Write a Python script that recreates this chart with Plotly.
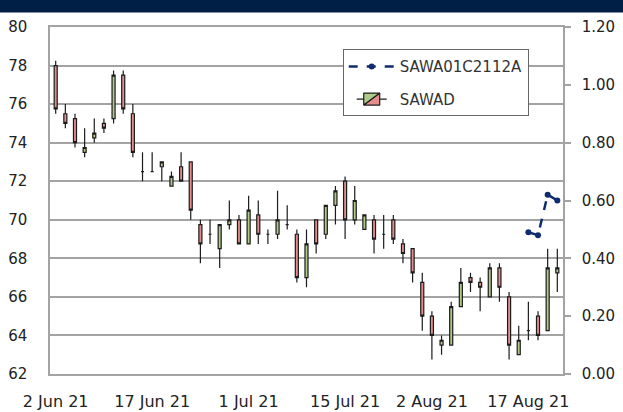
import plotly.graph_objects as go

# ---- data ----
dates = [
    "2021-06-02", "2021-06-04", "2021-06-07", "2021-06-08", "2021-06-09", "2021-06-10", "2021-06-11",
    "2021-06-14", "2021-06-15", "2021-06-16", "2021-06-17", "2021-06-18", "2021-06-21", "2021-06-22",
    "2021-06-23", "2021-06-24", "2021-06-25", "2021-06-28", "2021-06-29", "2021-06-30", "2021-07-01",
    "2021-07-02", "2021-07-05", "2021-07-06", "2021-07-07", "2021-07-08", "2021-07-09", "2021-07-12",
    "2021-07-13", "2021-07-14", "2021-07-15", "2021-07-16", "2021-07-19", "2021-07-20", "2021-07-21",
    "2021-07-22", "2021-07-23", "2021-07-29", "2021-07-30", "2021-08-02", "2021-08-03", "2021-08-04",
    "2021-08-05", "2021-08-06", "2021-08-09", "2021-08-10", "2021-08-11", "2021-08-13", "2021-08-16",
    "2021-08-17", "2021-08-18", "2021-08-19", "2021-08-20",
]
sawad_open = [
    78.0, 75.5, 75.25, 73.5, 74.25, 75.0, 75.25, 77.5, 75.5, 72.5, 72.5, 72.75, 71.75, 72.75,
    73.0, 69.75, 69.25, 68.5, 69.75, 70.0, 68.75, 70.25, 69.25, 69.25, 69.75, 69.25, 67.0, 70.0,
    69.25, 70.75, 72.0, 70.0, 69.5, 70.0, 69.25, 70.0, 68.75, 68.5, 66.75, 65.0, 63.5, 63.5,
    65.5, 67.0, 66.75, 66.0, 67.5, 66.0, 63.0, 64.25, 65.0, 64.25, 67.25,
]
sawad_high = [
    78.25, 76.0, 75.5, 74.75, 75.25, 75.25, 77.75, 77.75, 76.0, 73.5, 73.5, 73.0, 72.5, 73.5,
    73.0, 70.0, 70.0, 69.75, 71.0, 70.25, 71.25, 71.0, 69.5, 71.5, 70.75, 69.5, 69.5, 70.0,
    70.75, 71.75, 72.25, 71.75, 70.25, 70.25, 70.25, 70.25, 69.0, 68.5, 67.25, 65.25, 64.0, 65.75,
    67.5, 67.25, 67.0, 67.75, 67.75, 66.25, 64.5, 65.75, 65.25, 68.5, 68.5,
]
sawad_low = [
    75.5, 74.75, 73.75, 73.25, 74.0, 74.5, 75.0, 75.5, 73.25, 72.0, 72.5, 72.0, 71.75, 72.0,
    70.0, 67.75, 68.75, 67.5, 69.5, 68.75, 68.75, 68.75, 68.75, 69.0, 69.5, 66.75, 66.5, 68.25,
    69.0, 69.75, 69.0, 69.75, 69.5, 68.25, 68.5, 68.75, 67.75, 66.75, 64.25, 62.75, 63.0, 63.5,
    65.5, 66.25, 65.25, 66.0, 65.75, 62.75, 63.0, 63.75, 63.75, 64.25, 66.25,
]
sawad_close = [
    75.75, 75.0, 74.0, 73.75, 74.5, 74.75, 77.5, 75.75, 73.5, 72.5, 72.5, 73.0, 72.25, 72.0,
    70.5, 68.75, 69.25, 69.75, 70.0, 68.75, 70.5, 69.25, 69.25, 70.0, 69.75, 67.0, 68.75, 68.75,
    70.75, 71.5, 70.0, 71.0, 70.25, 69.0, 69.25, 69.0, 68.25, 67.25, 65.0, 64.0, 63.75, 65.5,
    66.75, 66.75, 66.5, 67.5, 66.5, 63.5, 63.75, 64.25, 64.0, 67.5, 67.5,
]
warrant_dates = ["2021-08-17", "2021-08-18", "2021-08-19", "2021-08-20"]
warrant_values = [0.49, 0.48, 0.62, 0.60]

tick_dates = ["2021-06-02", "2021-06-17", "2021-07-01", "2021-07-15", "2021-08-02", "2021-08-17"]
tick_labels = ["2 Jun 21", "17 Jun 21", "1 Jul 21", "15 Jul 21", "2 Aug 21", "17 Aug 21"]
left_ticks = [62, 64, 66, 68, 70, 72, 74, 76, 78, 80]
right_ticks = [0.0, 0.2, 0.4, 0.6, 0.8, 1.0, 1.2]

FONT = "DejaVu Sans"
GRID = "#a3a3a3"

fig = go.Figure()

fig.add_trace(go.Scatter(
    x=warrant_dates, y=warrant_values, name="SAWA01C2112A", yaxis="y2",
    mode="lines+markers",
    line=dict(color="#0f2d6e", width=2.5, dash="dash"),
    marker=dict(color="#0f2d6e", size=6),
    legendgroup="a",
))

fig.add_trace(go.Candlestick(
    x=dates, open=sawad_open, high=sawad_high, low=sawad_low, close=sawad_close,
    name="SAWAD",
    increasing=dict(line=dict(color="#1c1c1c", width=1.2), fillcolor="#aecb8a"),
    decreasing=dict(line=dict(color="#1c1c1c", width=1.2), fillcolor="#e38d8d"),
    whiskerwidth=0,
    legendgroup="b",
))

fig.update_layout(
    width=623, height=412,
    margin=dict(l=50, r=60, t=27, b=38, autoexpand=False),
    paper_bgcolor="white", plot_bgcolor="white",
    font=dict(family=FONT, size=15, color="#222222"),
    showlegend=True,
    boxgap=0.55,
    legend=dict(
        x=0.5706, y=0.9357, xanchor="left", yanchor="top",
        bgcolor="white", bordercolor="#666666", borderwidth=1,
        font=dict(family=FONT, size=15, color="#333333"),
        tracegroupgap=10, itemwidth=46,
    ),
    xaxis=dict(
        type="category", categoryorder="array", categoryarray=dates,
        range=[-0.59, len(dates) - 1 + 0.59],
        tickvals=tick_dates, ticktext=tick_labels,
        tickfont=dict(size=16, color="#222222"),
        showgrid=False, ticks="", ticklabelstandoff=12,
        showline=True, linecolor=GRID, linewidth=1.5, mirror=True,
        rangeslider=dict(visible=False), automargin=False,
    ),
    yaxis=dict(
        range=[62, 80], tickvals=left_ticks, ticktext=[str(v) for v in left_ticks],
        showgrid=True, gridcolor=GRID, gridwidth=1.5,
        ticks="", ticklabelstandoff=18,
        showline=True, linecolor=GRID, linewidth=1.5,
        zeroline=False, automargin=False,
    ),
    yaxis2=dict(
        range=[0, 1.2], tickvals=right_ticks, ticktext=[f"{v:.2f}" for v in right_ticks],
        overlaying="y", side="right", showgrid=False,
        ticks="outside", ticklen=6, tickcolor=GRID, tickwidth=1.5,
        ticklabelstandoff=8, tickfont=dict(size=15),
        showline=True, linecolor=GRID, linewidth=1.5, zeroline=False, automargin=False,
    ),
    shapes=[dict(
        type="rect", xref="paper", yref="paper",
        x0=-0.2, x1=1.2, y0=1 + (27 - 12.5) / 347, y1=1.2,
        fillcolor="#001f47", line=dict(width=0), layer="above",
    )],
)

fig.write_html(
    "out.html",
    config={"displayModeBar": False},
    post_script="document.body.style.margin='0';document.body.style.padding='0';",
)
